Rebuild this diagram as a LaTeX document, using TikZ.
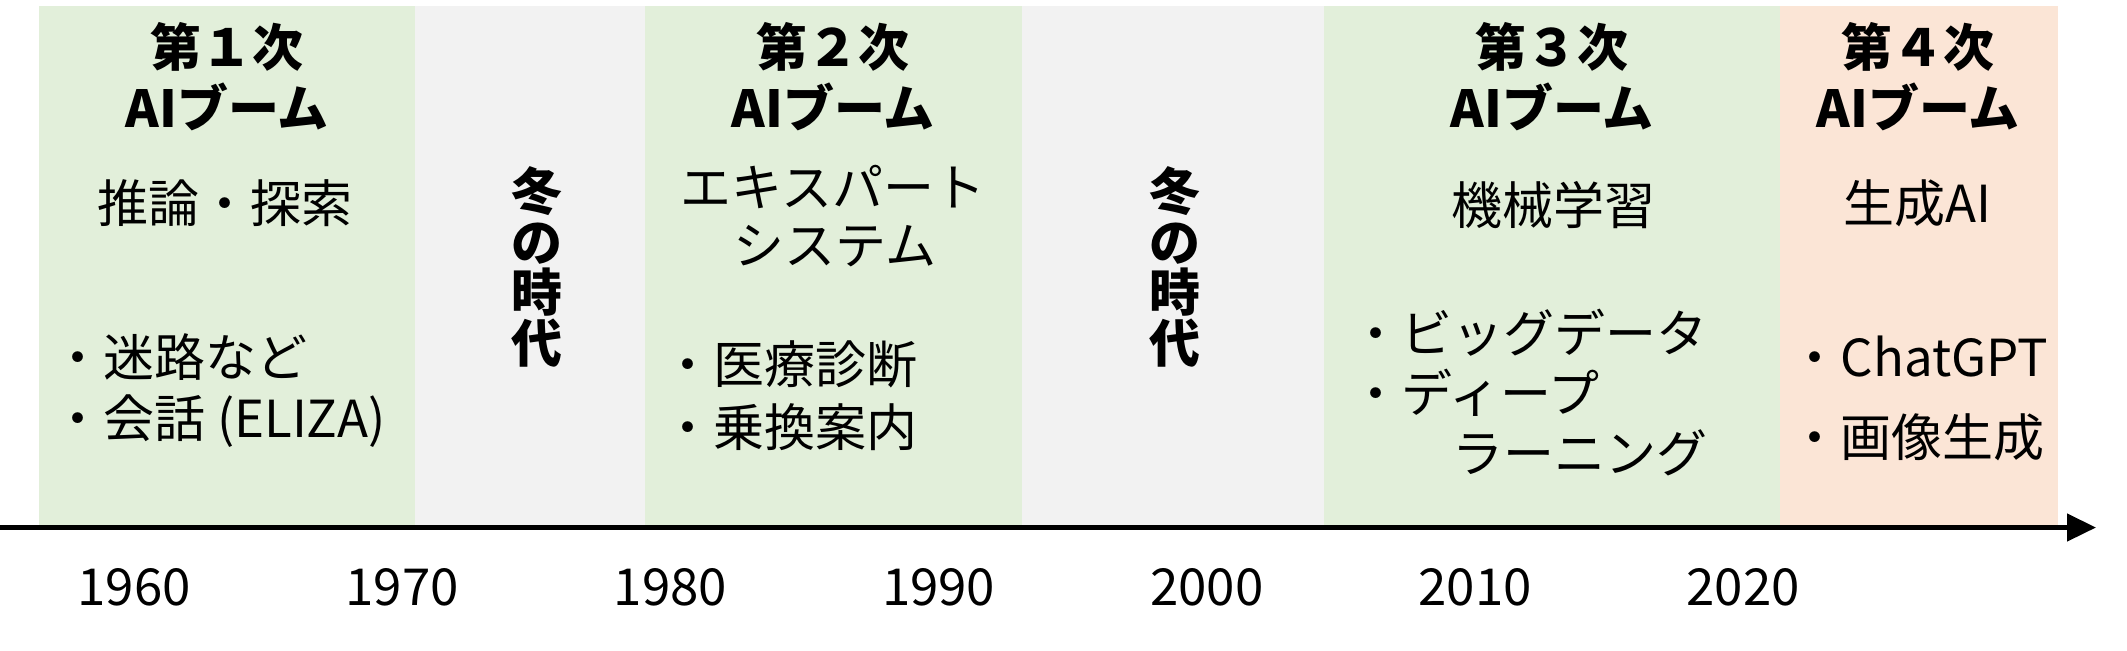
\documentclass[tikz,border=0pt]{standalone}
\usepackage{fontspec}
\setmainfont{Noto Sans CJK JP}
\usetikzlibrary{arrows.meta}
\definecolor{boomgreen}{HTML}{E2EFDA}
\definecolor{wintergray}{HTML}{F2F2F2}
\definecolor{genorange}{HTML}{FBE5D6}

\begin{document}
\begin{tikzpicture}[x=0.01cm,y=-0.01cm,
      head/.style={anchor=base,inner sep=0pt,font=\fontsize{14.5pt}{17pt}\selectfont\bfseries},
      theme/.style={anchor=base,inner sep=0pt,font=\fontsize{14.5pt}{17pt}\selectfont},
      item/.style={anchor=base west,inner sep=0pt,font=\fontsize{14.5pt}{17pt}\selectfont},
      winter/.style={align=center,inner sep=0pt,font=\fontsize{14.5pt}{14.45pt}\selectfont\bfseries},
      year/.style={anchor=base,inner sep=0pt,font=\fontsize{14.5pt}{17pt}\selectfont},
    ]
        \useasboundingbox (0,0) rectangle (2127,650);
        % bands
        \fill[boomgreen]  (39,6)   rectangle (415,525);
        \fill[wintergray] (415,6)  rectangle (645,525);
        \fill[boomgreen]  (645,6)  rectangle (1022,525);
        \fill[wintergray] (1022,6) rectangle (1324,525);
        \fill[boomgreen]  (1324,6) rectangle (1780,525);
        \fill[genorange]  (1780,6) rectangle (2058,525);

        % time axis
        \coordinate (start) at (0,527.5);
        \coordinate (end) at (2096,527.5);
        \draw[line width=0.045cm,-{Triangle[length=0.29cm,width=0.27cm]}] (start) -- (end);

        % headings
        \foreach \n/\x/\k in {1/227/１,2/833/２,3/1552/３,4/1918/４} {
            \node[head] (num\n) at (\x,66) {第\k 次};
            \node[head] (ai\n) at (\x,127) {AIブーム};
        }

        % themes
        \node[theme] (theme1) at (225,222) {推論・探索};
        \node[theme] (theme2a) at (833,206) {エキスパート};
        \node[theme] (theme2b) at (835,264) {システム};
        \node[theme] (theme3) at (1553,224) {機械学習};
        \node[theme] (theme4) at (1917,222) {生成AI};

        % winters
        \node[winter] (winter1) at (537,267) {冬\\の\\時\\代};
        \node[winter] (winter2) at (1175,267) {冬\\の\\時\\代};

        % examples
        \node[item] (ex1a) at (52,376) {・迷路など};
        \node[item] (ex1b) at (52,437) {・会話 (ELIZA)};
        \node[item] (ex2a) at (662,383) {・医療診断};
        \node[item] (ex2b) at (662,446) {・乗換案内};
        \node[item] (ex3a) at (1350,352) {・ビッグデータ};
        \node[item] (ex3b) at (1350,412) {・ディープ};
        \node[item] (ex3c) at (1350,472) {　　ラーニング};
        \node[item] (ex4a) at (1789,376) {・ChatGPT};
        \node[item] (ex4b) at (1789,456) {・画像生成};

        % years
        \foreach \y [count=\i from 0] in {1960,1970,1980,1990,2000,2010,2020} {
            \node[year] (y\y) at (134+268.2*\i,605) {\y};
        }
    \end{tikzpicture}
\end{document}
